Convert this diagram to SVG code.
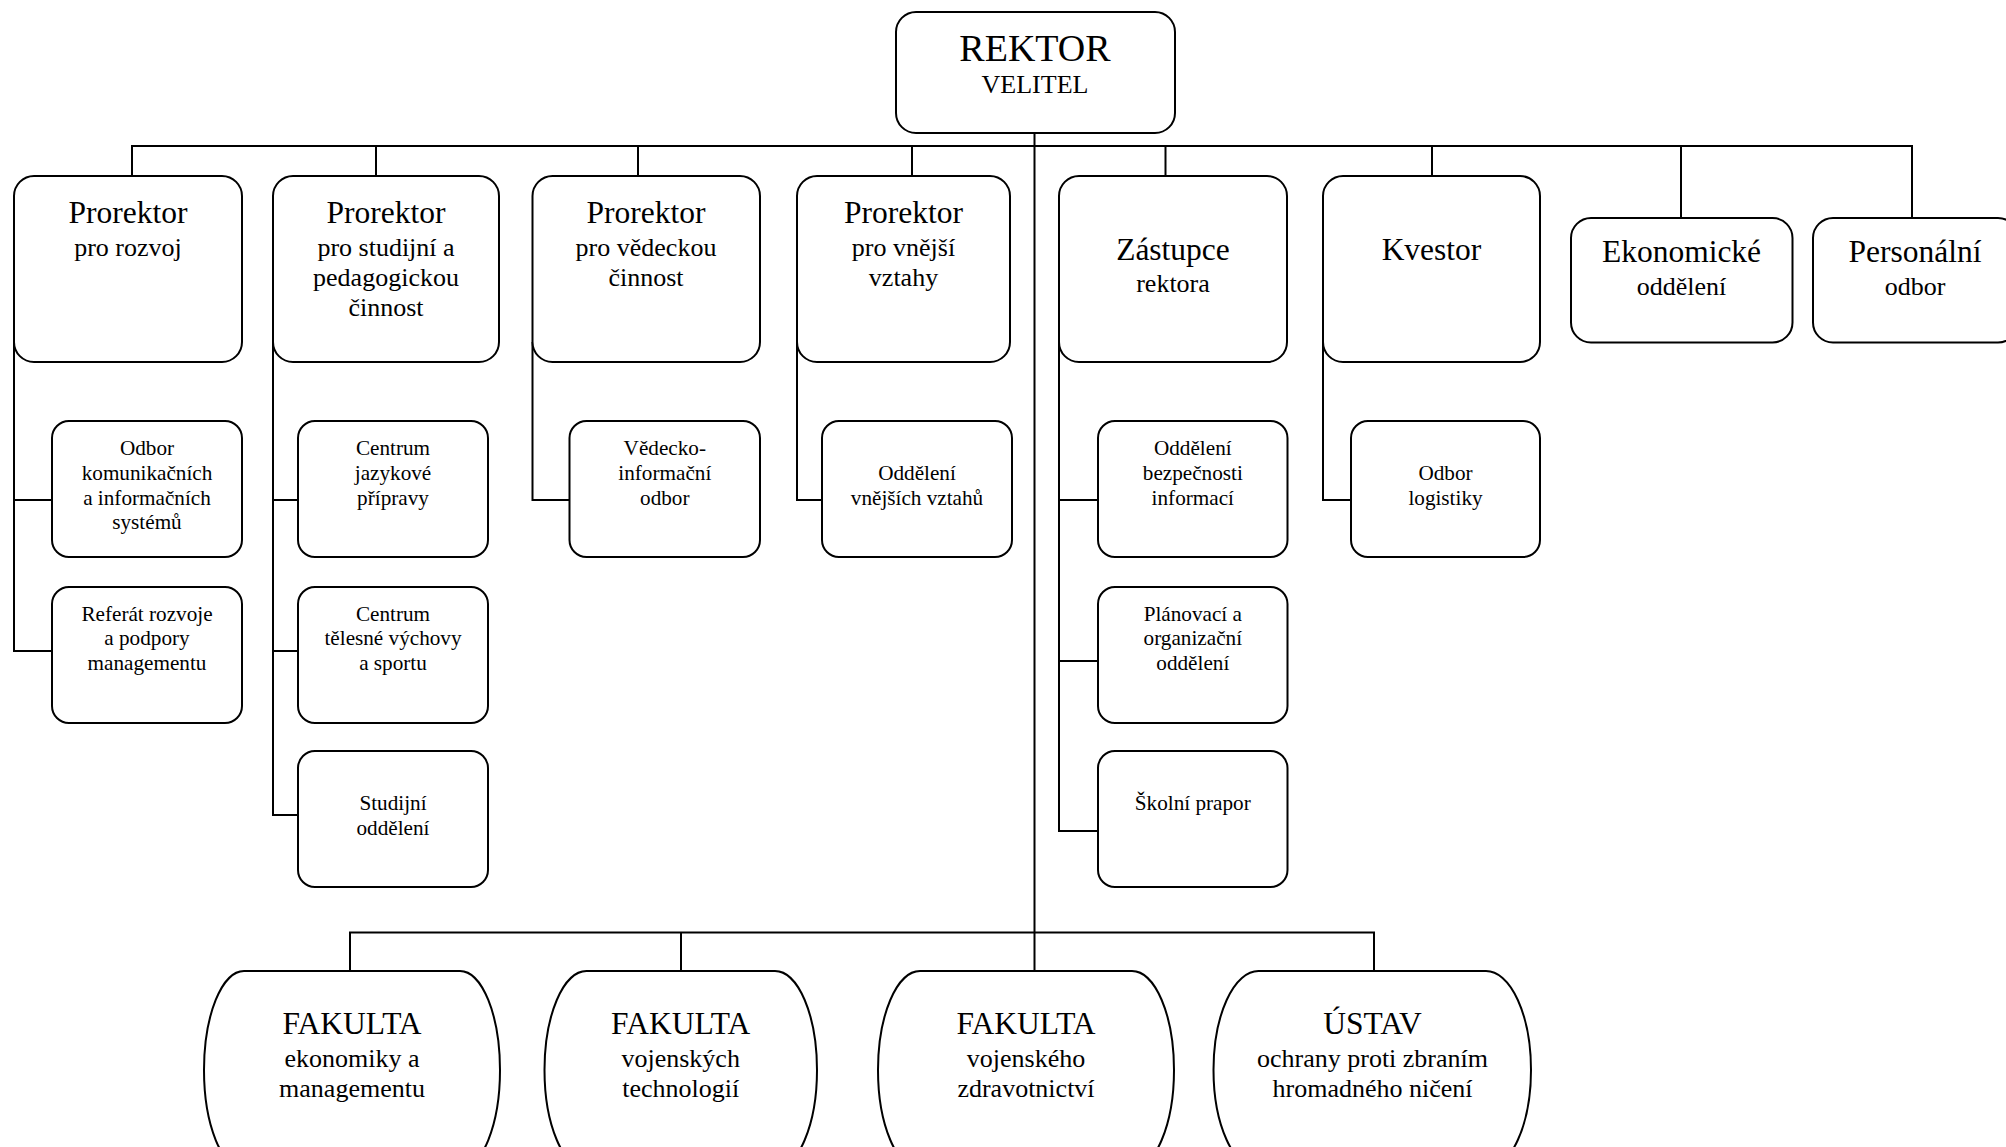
<svg xmlns="http://www.w3.org/2000/svg" width="2006" height="1147" viewBox="0 0 2006 1147">
<style>
  .box { fill: #ffffff; stroke: #000000; stroke-width: 2; }
  .ln { fill: none; stroke: #000000; stroke-width: 2; }
  text { font-family: "Liberation Serif", "Times New Roman", serif; fill: #000000; text-anchor: middle; }
  .t1 { font-size: 38px; }
  .t { font-size: 31.5px; }
  .s { font-size: 26px; }
  .u { font-size: 21.2px; }
</style>
<rect x="0" y="0" width="2006" height="1147" fill="#ffffff"/>

<g id="connectors">
  <line class="ln" x1="1034.5" y1="103" x2="1034.5" y2="971"/>
  <polyline class="ln" points="132,176 132,146 1912,146 1912,218"/>
  <line class="ln" x1="376" y1="146" x2="376" y2="176"/>
  <line class="ln" x1="638" y1="146" x2="638" y2="176"/>
  <line class="ln" x1="912" y1="146" x2="912" y2="176"/>
  <line class="ln" x1="1165.5" y1="146" x2="1165.5" y2="176"/>
  <line class="ln" x1="1432" y1="146" x2="1432" y2="176"/>
  <line class="ln" x1="1681" y1="146" x2="1681" y2="218"/>
  <polyline class="ln" points="14,342 14,651 52,651"/>
  <line class="ln" x1="14" y1="500" x2="52" y2="500"/>
  <polyline class="ln" points="273,342 273,815 298,815"/>
  <line class="ln" x1="273" y1="500" x2="298" y2="500"/>
  <line class="ln" x1="273" y1="651" x2="298" y2="651"/>
  <polyline class="ln" points="532.5,342 532.5,500 569.5,500"/>
  <polyline class="ln" points="797,342 797,500 822,500"/>
  <polyline class="ln" points="1059,342 1059,831 1098,831"/>
  <line class="ln" x1="1059" y1="500" x2="1098" y2="500"/>
  <line class="ln" x1="1059" y1="661" x2="1098" y2="661"/>
  <polyline class="ln" points="1323,342 1323,500 1351,500"/>
  <polyline class="ln" points="350,971 350,932.5 1374,932.5 1374,971"/>
  <line class="ln" x1="681" y1="932.5" x2="681" y2="971"/>
</g>

<g id="rektor">
  <rect class="box" x="896" y="12" width="279" height="121" rx="20"/>
  <text class="t1" x="1035" y="61">REKTOR</text>
  <text class="s" x="1035" y="92.7">VELITEL</text>
</g>

<g id="prorektor-rozvoj">
  <rect class="box" x="14" y="176" width="228" height="186" rx="20"/>
  <text class="t" x="128" y="223">Prorektor</text>
  <text class="s" x="128" y="256">pro rozvoj</text>
</g>
<g id="prorektor-studijni">
  <rect class="box" x="273" y="176" width="226" height="186" rx="20"/>
  <text class="t" x="386" y="223">Prorektor</text>
  <text class="s" x="386" y="256">pro studijní a</text>
  <text class="s" x="386" y="286">pedagogickou</text>
  <text class="s" x="386" y="316">činnost</text>
</g>
<g id="prorektor-vedecka">
  <rect class="box" x="532.5" y="176" width="227.5" height="186" rx="20"/>
  <text class="t" x="646" y="223">Prorektor</text>
  <text class="s" x="646" y="256">pro vědeckou</text>
  <text class="s" x="646" y="286">činnost</text>
</g>
<g id="prorektor-vnejsi">
  <rect class="box" x="797" y="176" width="213" height="186" rx="20"/>
  <text class="t" x="903.5" y="223">Prorektor</text>
  <text class="s" x="903.5" y="256">pro vnější</text>
  <text class="s" x="903.5" y="286">vztahy</text>
</g>
<g id="zastupce">
  <rect class="box" x="1059" y="176" width="228" height="186" rx="20"/>
  <text class="t" x="1173" y="260">Zástupce</text>
  <text class="s" x="1173" y="292">rektora</text>
</g>
<g id="kvestor">
  <rect class="box" x="1323" y="176" width="217" height="186" rx="20"/>
  <text class="t" x="1431.5" y="260">Kvestor</text>
</g>
<g id="ekonomicke">
  <rect class="box" x="1571" y="218" width="221.5" height="124.5" rx="20"/>
  <text class="t" x="1681.5" y="262.3">Ekonomické</text>
  <text class="s" x="1681.5" y="295">oddělení</text>
</g>
<g id="personalni">
  <rect class="box" x="1813" y="218" width="205" height="124.5" rx="20"/>
  <text class="t" x="1915" y="262.3">Personální</text>
  <text class="s" x="1915" y="295">odbor</text>
</g>

<g id="odbor-komunikacnich">
  <rect class="box" x="52" y="421" width="190" height="136" rx="17"/>
  <text class="u" x="147" y="455">Odbor</text>
  <text class="u" x="147" y="480">komunikačních</text>
  <text class="u" x="147" y="504.5">a informačních</text>
  <text class="u" x="147" y="529">systémů</text>
</g>
<g id="referat-rozvoje">
  <rect class="box" x="52" y="587" width="190" height="136" rx="17"/>
  <text class="u" x="147" y="620.7">Referát rozvoje</text>
  <text class="u" x="147" y="645">a podpory</text>
  <text class="u" x="147" y="669.5">managementu</text>
</g>
<g id="centrum-jazykove">
  <rect class="box" x="298" y="421" width="190" height="136" rx="17"/>
  <text class="u" x="393" y="455">Centrum</text>
  <text class="u" x="393" y="480">jazykové</text>
  <text class="u" x="393" y="504.5">přípravy</text>
</g>
<g id="centrum-telesne">
  <rect class="box" x="298" y="587" width="190" height="136" rx="17"/>
  <text class="u" x="393" y="620.7">Centrum</text>
  <text class="u" x="393" y="645">tělesné výchovy</text>
  <text class="u" x="393" y="669.5">a sportu</text>
</g>
<g id="studijni-oddeleni">
  <rect class="box" x="298" y="751" width="190" height="136" rx="17"/>
  <text class="u" x="393" y="810">Studijní</text>
  <text class="u" x="393" y="834.5">oddělení</text>
</g>
<g id="vedecko-informacni">
  <rect class="box" x="569.5" y="421" width="190.5" height="136" rx="17"/>
  <text class="u" x="664.8" y="455">Vědecko-</text>
  <text class="u" x="664.8" y="480">informační</text>
  <text class="u" x="664.8" y="504.5">odbor</text>
</g>
<g id="oddeleni-vnejsich">
  <rect class="box" x="822" y="421" width="190" height="136" rx="17"/>
  <text class="u" x="917" y="480">Oddělení</text>
  <text class="u" x="917" y="504.5">vnějších vztahů</text>
</g>
<g id="oddeleni-bezpecnosti">
  <rect class="box" x="1098" y="421" width="189.5" height="136" rx="17"/>
  <text class="u" x="1192.8" y="455">Oddělení</text>
  <text class="u" x="1192.8" y="480">bezpečnosti</text>
  <text class="u" x="1192.8" y="504.5">informací</text>
</g>
<g id="planovaci">
  <rect class="box" x="1098" y="587" width="189.5" height="136" rx="17"/>
  <text class="u" x="1192.8" y="620.7">Plánovací a</text>
  <text class="u" x="1192.8" y="645">organizační</text>
  <text class="u" x="1192.8" y="669.5">oddělení</text>
</g>
<g id="skolni-prapor">
  <rect class="box" x="1098" y="751" width="189.5" height="136" rx="17"/>
  <text class="u" x="1192.8" y="810">Školní prapor</text>
</g>
<g id="odbor-logistiky">
  <rect class="box" x="1351" y="421" width="189" height="136" rx="17"/>
  <text class="u" x="1445.5" y="480">Odbor</text>
  <text class="u" x="1445.5" y="504.5">logistiky</text>
</g>

<g id="fakulta-ekonomiky">
  <rect class="box" x="204" y="971" width="296" height="198" rx="40" ry="99"/>
  <text class="t" x="352" y="1034">FAKULTA</text>
  <text class="s" x="352" y="1066.5">ekonomiky a</text>
  <text class="s" x="352" y="1096.5">managementu</text>
</g>
<g id="fakulta-technologii">
  <rect class="box" x="544.5" y="971" width="272.5" height="198" rx="42" ry="99"/>
  <text class="t" x="680.7" y="1034">FAKULTA</text>
  <text class="s" x="680.7" y="1066.5">vojenských</text>
  <text class="s" x="680.7" y="1096.5">technologií</text>
</g>
<g id="fakulta-zdravotnictvi">
  <rect class="box" x="878" y="971" width="296" height="198" rx="42" ry="99"/>
  <text class="t" x="1026" y="1034">FAKULTA</text>
  <text class="s" x="1026" y="1066.5">vojenského</text>
  <text class="s" x="1026" y="1096.5">zdravotnictví</text>
</g>
<g id="ustav">
  <rect class="box" x="1213.5" y="971" width="317.5" height="198" rx="45" ry="99"/>
  <text class="t" x="1372.5" y="1034">ÚSTAV</text>
  <text class="s" x="1372.5" y="1066.5">ochrany proti zbraním</text>
  <text class="s" x="1372.5" y="1096.5">hromadného ničení</text>
</g>
</svg>
